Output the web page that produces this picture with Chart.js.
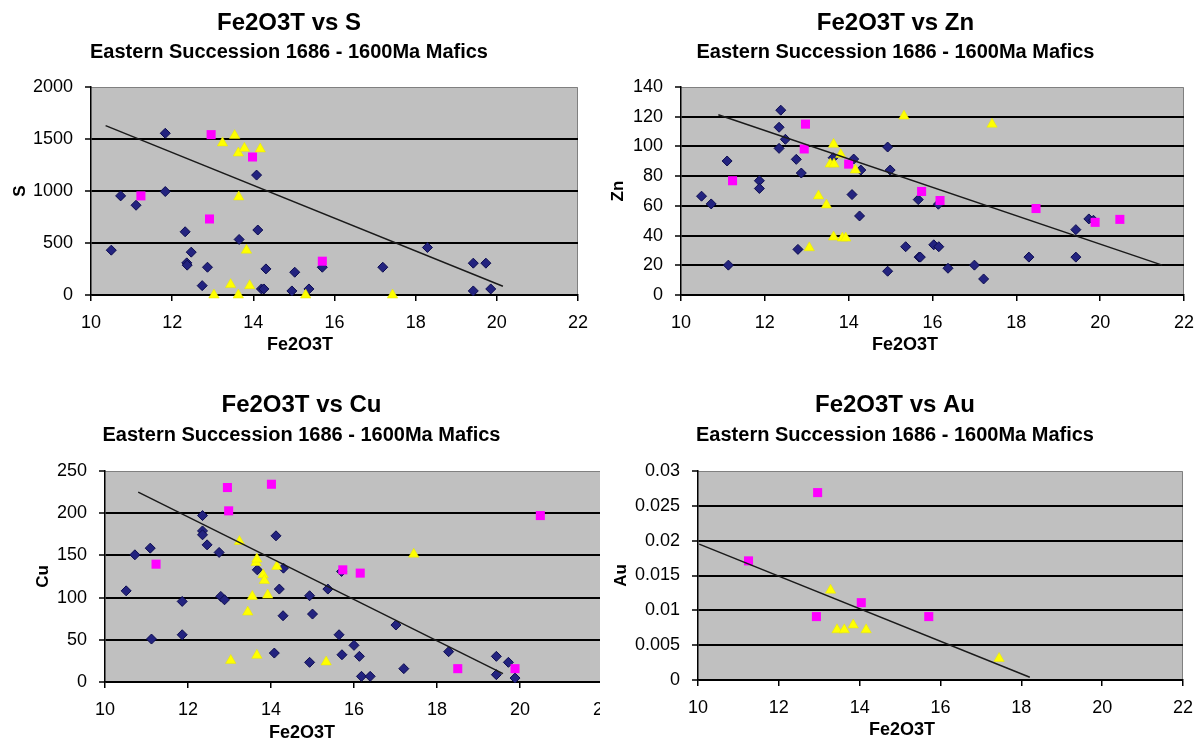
<!DOCTYPE html>
<html>
<head>
<meta charset="utf-8">
<script src="https://cdn.jsdelivr.net/npm/chart.js@4.4.0/dist/chart.umd.min.js"></script>
<style>
  html, body { margin: 0; padding: 0; background: #fff; overflow: hidden; }
  body { width: 1199px; height: 740px; position: relative; }
  .panel { position: absolute; overflow: hidden; }
  canvas { display: block; }
</style>
</head>
<body>
<div class="panel" style="left:0;top:0;width:604px;height:370px"><canvas id="chartS" width="604" height="360"></canvas></div>
<div class="panel" style="left:606px;top:0;width:593px;height:370px"><canvas id="chartZn" width="599" height="360"></canvas></div>
<div class="panel" style="left:0;top:370px;width:600px;height:370px"><canvas id="chartCu" width="658" height="380"></canvas></div>
<div class="panel" style="left:606px;top:370px;width:593px;height:370px"><canvas id="chartAu" width="598" height="380"></canvas></div>
<script>
const SUBTITLE = "Eastern Succession 1686 - 1600Ma Mafics";
const X_LABEL = "Fe2O3T";

// Fe2O3T vs S
const sDiamondFe = [10.50, 10.73, 11.11, 11.83, 11.83, 12.32, 12.36, 12.37, 12.47, 12.74, 12.87, 13.65, 14.08, 14.11, 14.20, 14.26, 14.31, 14.95, 15.02, 15.37, 15.70, 17.19, 18.29, 19.42, 19.73, 19.42, 19.85];
const sDiamondVal = [431, 953, 863, 1555, 995, 608, 309, 287, 412, 90, 267, 534, 1153, 625, 58, 58, 251, 39, 219, 58, 267, 267, 457, 306, 306, 39, 58];
const sSquareFe = [11.23, 12.96, 12.92, 13.98, 15.70];
const sSquareVal = [953, 1542, 731, 1327, 325];
const sTriangleFe = [13.03, 13.24, 13.54, 13.63, 13.78, 14.17, 13.64, 13.83, 13.44, 13.91, 13.63, 15.29, 17.43];
const sTriangleVal = [0, 1462, 1533, 1365, 1410, 1404, 943, 431, 100, 90, 0, 0, 0];
const sTrendFe = [10.36, 20.15];
const sTrendVal = [1629, 84];

// Fe2O3T vs Zn
const znDiamondFe = [10.49, 10.72, 11.10, 11.13, 11.87, 11.87, 12.38, 12.34, 12.34, 12.49, 12.75, 12.87, 12.79, 13.63, 14.12, 14.08, 14.29, 14.26, 14.93, 14.99, 14.93, 15.36, 15.66, 15.68, 15.71, 16.03, 16.15, 16.14, 16.37, 17.00, 17.22, 18.30, 19.42, 19.42, 19.73, 19.84];
const znDiamondVal = [66.5, 61.3, 90.2, 20.1, 76.9, 71.7, 124.4, 112.9, 98.7, 104.8, 91.3, 82.1, 30.7, 92.4, 91.5, 67.6, 84.1, 53.2, 99.6, 84.1, 16.0, 32.5, 64.2, 25.5, 25.5, 33.8, 32.5, 61.1, 18.0, 20.1, 10.8, 25.5, 44.0, 25.5, 51.2, 50.3];
const znSquareFe = [11.23, 12.97, 12.94, 14.00, 15.74, 16.18, 18.47, 19.88, 20.47];
const znSquareVal = [76.9, 115.0, 98.3, 88.1, 69.7, 63.6, 58.2, 48.9, 50.9];
const znTriangleFe = [13.06, 13.28, 13.47, 13.56, 13.65, 13.64, 13.81, 14.16, 13.64, 13.85, 13.93, 15.32, 17.42];
const znTriangleVal = [31.8, 66.7, 60.6, 88.1, 88.1, 101.4, 94.5, 84.1, 39.0, 38.3, 38.3, 120.4, 115.0];
const znTrendFe = [10.89, 21.48];
const znTrendVal = [121.3, 20.1];

// Fe2O3T vs Cu
const cuDiamondFe = [10.51, 10.72, 11.09, 11.12, 11.86, 11.86, 12.35, 12.35, 12.35, 12.46, 12.75, 12.79, 12.88, 13.67, 14.12, 14.20, 14.29, 14.30, 14.08, 14.93, 15.00, 14.93, 15.37, 15.64, 15.70, 15.71, 16.00, 16.13, 16.18, 16.39, 17.01, 17.20, 18.28, 19.43, 19.43, 19.72, 19.88];
const cuDiamondVal = [108, 150.7, 158.6, 50.9, 95.5, 56.0, 197.2, 179, 174.4, 162.5, 153.5, 101.4, 97.4, 132.9, 173.2, 110.1, 78.5, 134.9, 34.3, 102.2, 80.5, 23.3, 110.1, 56.0, 131, 32.3, 43.4, 30.4, 6.7, 6.7, 67.5, 15.8, 35.9, 30.4, 8.7, 23.3, 4.7];
const cuSquareFe = [11.23, 12.95, 12.98, 14.01, 15.73, 16.15, 18.50, 19.88, 20.49];
const cuSquareVal = [139.6, 230.4, 202.8, 234.3, 132.9, 129, 15.8, 15.8, 197.2];
const cuTriangleFe = [13.03, 13.24, 13.44, 13.55, 13.64, 13.66, 13.66, 13.81, 13.84, 13.92, 14.14, 15.33, 17.44];
const cuTriangleVal = [25.6, 166.5, 82.8, 101.4, 141.6, 145.6, 31.6, 127, 120.3, 103, 136.9, 23.7, 151.5];
const cuTrendFe = [10.80, 19.59];
const cuTrendVal = [224.9, 9.9];

// Fe2O3T vs Au
const auSquareFe = [11.25, 12.96, 12.93, 14.04, 15.71];
const auSquareVal = [0.0171, 0.0269, 0.0091, 0.0111, 0.0091];
const auTriangleFe = [13.28, 13.44, 13.62, 13.84, 14.16, 17.45];
const auTriangleVal = [0.0129, 0.0072, 0.0072, 0.0079, 0.0072, 0.0031];
const auTrendFe = [10.03, 18.21];
const auTrendVal = [0.0195, 0.0004];

Chart.defaults.font.family = '"Liberation Sans", Arial, sans-serif';
Chart.defaults.color = "#000";

const plotBox = {
    id: "plotBox",
    beforeDraw(chart) {
        const { ctx, chartArea: a } = chart;
        ctx.save();
        ctx.fillStyle = "#c0c0c0";
        ctx.fillRect(a.left, a.top, a.right - a.left, a.bottom - a.top);
        ctx.strokeStyle = "#808080";
        ctx.lineWidth = 1;
        ctx.beginPath();
        ctx.moveTo(a.left, a.top + 0.5);
        ctx.lineTo(a.right - 0.5, a.top + 0.5);
        ctx.lineTo(a.right - 0.5, a.bottom);
        ctx.stroke();
        ctx.restore();
    },
};

const xTitle = {
    id: "xTitle",
    afterDraw(chart, args, opts) {
        const ctx = chart.ctx;
        ctx.save();
        ctx.font = 'bold 18px "Liberation Sans", Arial, sans-serif';
        ctx.fillStyle = "#000";
        ctx.textAlign = "center";
        ctx.textBaseline = "middle";
        ctx.fillText(opts.text, opts.x, opts.y);
        ctx.restore();
    },
};

function pts(xs, ys) {
    return xs.map((x, i) => ({ x, y: ys[i] }));
}

function createScatter(canvasId, cfg) {
    const datasets = [
        {
            label: "Trend",
            data: pts(cfg.trend[0], cfg.trend[1]),
            showLine: true,
            borderColor: "#1a1a1a",
            borderWidth: 1.5,
            pointRadius: 0,
            order: 0,
        },
        {
            label: "Triangles",
            data: pts(cfg.triangles[0], cfg.triangles[1]),
            pointStyle: "triangle",
            pointRadius: 6,
            backgroundColor: "#ffff00",
            borderColor: "#e6e600",
            borderWidth: 0.5,
            order: 1,
            clip: false,
        },
        {
            label: "Squares",
            data: pts(cfg.squares[0], cfg.squares[1]),
            pointStyle: "rect",
            pointRadius: 6.4,
            backgroundColor: "#ff00ff",
            borderColor: "#ff00ff",
            borderWidth: 0,
            order: 2,
            clip: false,
        },
    ];
    if (cfg.diamonds) {
        datasets.push({
            label: "Diamonds",
            data: pts(cfg.diamonds[0], cfg.diamonds[1]),
            pointStyle: "rectRot",
            pointRadius: 5,
            backgroundColor: "#23237f",
            borderColor: "#0c0c50",
            borderWidth: 1,
            order: 3,
            clip: false,
        });
    }

    new Chart(document.getElementById(canvasId), {
        type: "scatter",
        data: { datasets },
        options: {
            responsive: false,
            animation: false,
            events: [],
            layout: { padding: { left: 0, right: cfg.padRight, top: 0, bottom: 0 } },
            plugins: {
                legend: { display: false },
                tooltip: { enabled: false },
                title: {
                    display: true,
                    text: cfg.title,
                    font: { size: 24, weight: "bold", lineHeight: 1 },
                    padding: { top: cfg.titleTop, bottom: 0 },
                },
                subtitle: {
                    display: true,
                    text: SUBTITLE,
                    font: { size: 20, weight: "bold", lineHeight: 1 },
                    padding: { top: cfg.subTop, bottom: cfg.subBottom },
                },
                xTitle: { text: X_LABEL, x: cfg.xTitleX, y: cfg.xTitleY },
            },
            scales: {
                x: {
                    type: "linear",
                    min: 10,
                    max: 22,
                    afterFit: (s) => { s.height = cfg.xHeight; },
                    ticks: { stepSize: 2, padding: 11, font: { size: 18 }, maxRotation: 0, autoSkip: false },
                    grid: { drawOnChartArea: false, color: "#000", lineWidth: 1.5, tickLength: 6 },
                    border: { color: "#000", width: 1.5 },
                },
                y: {
                    min: 0,
                    max: cfg.yMax,
                    afterFit: (s) => { s.width = cfg.plotLeft; },
                    title: {
                        display: true,
                        text: cfg.yLabel,
                        font: { size: 17, weight: "bold", lineHeight: 1 },
                        padding: { top: cfg.yTitlePad, bottom: 0 },
                    },
                    ticks: {
                        stepSize: cfg.yStep,
                        padding: 12,
                        font: { size: 18 },
                        callback: (v) => String(Number(v.toFixed(4))),
                    },
                    grid: {
                        color: (c) => (c.tick && c.tick.value >= cfg.yMax ? "rgba(0,0,0,0)" : "#000"),
                        lineWidth: 2,
                        tickColor: "#000",
                        tickWidth: 1.5,
                        tickLength: 6,
                    },
                    border: { color: "#000", width: 1.5 },
                },
            },
        },
        plugins: [plotBox, xTitle],
    });
}

document.addEventListener("DOMContentLoaded", () => {
    createScatter("chartS", {
        title: "Fe2O3T vs S", yLabel: "S", yMax: 2000, yStep: 500,
        diamonds: [sDiamondFe, sDiamondVal], squares: [sSquareFe, sSquareVal],
        triangles: [sTriangleFe, sTriangleVal], trend: [sTrendFe, sTrendVal],
        plotLeft: 91, padRight: 26, xHeight: 65,
        titleTop: 11.3, subTop: 7.4, subBottom: 24.3, yTitlePad: 12.3,
        xTitleX: 300, xTitleY: 345,
    });
    createScatter("chartZn", {
        title: "Fe2O3T vs Zn", yLabel: "Zn", yMax: 140, yStep: 20,
        diamonds: [znDiamondFe, znDiamondVal], squares: [znSquareFe, znSquareVal],
        triangles: [znTriangleFe, znTriangleVal], trend: [znTrendFe, znTrendVal],
        plotLeft: 75, padRight: 20, xHeight: 65,
        titleTop: 11.3, subTop: 7.4, subBottom: 24.3, yTitlePad: 4,
        xTitleX: 299, xTitleY: 345,
    });
    createScatter("chartCu", {
        title: "Fe2O3T vs Cu", yLabel: "Cu", yMax: 250, yStep: 50,
        diamonds: [cuDiamondFe, cuDiamondVal], squares: [cuSquareFe, cuSquareVal],
        triangles: [cuTriangleFe, cuTriangleVal], trend: [cuTrendFe, cuTrendVal],
        plotLeft: 105, padRight: 55, xHeight: 68,
        titleTop: 23.7, subTop: 7.8, subBottom: 25.5, yTitlePad: 35,
        xTitleX: 302, xTitleY: 363,
    });
    createScatter("chartAu", {
        title: "Fe2O3T vs Au", yLabel: "Au", yMax: 0.03, yStep: 0.005,
        squares: [auSquareFe, auSquareVal],
        triangles: [auTriangleFe, auTriangleVal], trend: [auTrendFe, auTrendVal],
        plotLeft: 92, padRight: 20, xHeight: 70,
        titleTop: 23.7, subTop: 7.8, subBottom: 25.5, yTitlePad: 7,
        xTitleX: 296, xTitleY: 360,
    });
});
</script>
</body>
</html>
